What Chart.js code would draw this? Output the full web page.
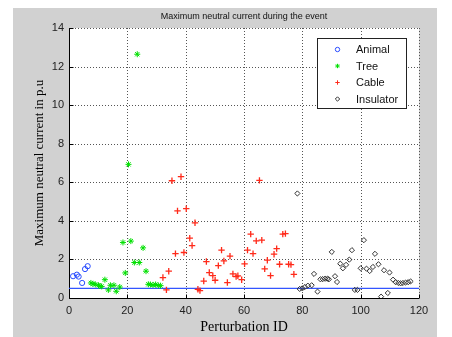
<!DOCTYPE html>
<html lang="en">
<head>
<meta charset="UTF-8">
<title>Maximum neutral current during the event</title>
<script src="https://cdn.jsdelivr.net/npm/chart.js"></script>
<style>
  html, body { margin: 0; padding: 0; background: #fff; }
  #wrap { width: 452px; height: 337px; }
</style>
</head>
<body>
<div id="wrap"><canvas id="chart" width="452" height="337"></canvas></div>
<script>
  // values
  const animalX = [1.4, 2.7, 3.3, 4.5, 5.5, 6.4];
  const animalY = [1.13, 1.21, 1.11, 0.78, 1.5, 1.65];

  const treeX = [7.5, 8.2, 9.0, 10.1, 10.6, 11.2, 12.3, 13.5, 14.2, 15.4, 16.2, 17.4, 18.5, 19.3,
    20.4, 21.2, 22.4, 23.4, 24.1, 25.4, 26.4, 27.2, 27.9, 28.8, 29.7, 30.6, 31.4];
  const treeY = [0.78, 0.73, 0.71, 0.66, 0.62, 0.6, 0.95, 0.42, 0.66, 0.66, 0.35, 0.57, 2.88, 1.3,
    6.93, 2.95, 1.84, 12.64, 1.84, 2.6, 1.39, 0.71, 0.7, 0.68, 0.7, 0.65, 0.64];

  const cableX = [32.2, 33.4, 34.2, 35.3, 36.5, 37.2, 38.4, 39.4, 40.2, 41.4, 42.2, 43.2, 44.2, 44.9,
    46.2, 47.1, 48.1, 49.3, 50.1, 51.2, 52.3, 53.1, 54.3, 55.2, 56.2, 57.3, 57.9, 59.2, 60.2, 61.2,
    62.3, 63.1, 64.2, 65.3, 66.1, 67.1, 68.0, 69.1, 70.3, 71.2, 72.2, 73.3, 74.2, 75.3, 76.1, 77.1];
  const cableY = [1.06, 0.42, 1.39, 6.08, 2.3, 4.52, 6.29, 2.36, 4.63, 3.1, 2.72, 3.9, 0.45, 0.38,
    0.88, 1.89, 1.32, 1.16, 0.92, 1.68, 2.48, 1.92, 0.8, 2.17, 1.25, 1.11, 1.15, 0.95, 1.77, 2.48,
    3.31, 2.3, 2.96, 6.1, 3.0, 1.51, 1.96, 1.16, 2.27, 2.56, 1.75, 3.31, 3.34, 1.75, 1.73, 1.23];

  const insulatorX = [78.3, 79.1, 80.0, 80.9, 81.9, 83.2, 84.0, 85.2, 86.2, 87.0, 87.8, 88.6, 89.1,
    90.1, 91.2, 91.9, 93.0, 93.9, 95.0, 96.1, 97.0, 98.0, 98.9, 100.0, 101.1, 102.0, 103.1, 104.2,
    104.9, 106.1, 107.0, 108.0, 109.3, 109.9, 111.1, 112.0, 112.9, 113.7, 114.5, 115.4, 116.3, 117.1];
  const insulatorY = [5.42, 0.47, 0.5, 0.57, 0.64, 0.66, 1.25, 0.33, 0.97, 0.98, 1.0, 1.0, 0.97,
    2.39, 1.13, 0.83, 1.78, 1.54, 1.72, 1.99, 2.48, 0.42, 0.42, 1.54, 3.0, 1.52, 1.4, 1.61,
    2.29, 1.75, 0.07, 1.44, 0.26, 1.32, 0.95, 0.82, 0.78, 0.76, 0.78, 0.8, 0.82, 0.86];

  const thresholdX = [0, 120];
  const thresholdY = [0.5, 0.5];

  const xTicks = [0, 20, 40, 60, 80, 100, 120];
  const yTicks = [0, 2, 4, 6, 8, 10, 12, 14];

  const legendItems = [
    { label: "Animal", style: "circle", color: "#2a4dff" },
    { label: "Tree", style: "star", color: "#00e000" },
    { label: "Cable", style: "cross", color: "#ff2a1a" },
    { label: "Insulator", style: "rectRot", color: "#333333" }
  ];

  function pts(xs, ys) {
    return xs.map((x, i) => ({ x, y: ys[i] }));
  }

  // gray figure, white axes, dotted grid, inward ticks
  const matlabFrame = {
    id: "matlabFrame",
    beforeDraw(chart) {
      const ctx = chart.ctx;
      const a = chart.chartArea;
      ctx.save();
      ctx.fillStyle = "#ffffff";
      ctx.fillRect(0, 0, chart.width, chart.height);
      ctx.fillStyle = "#d1d1d1";
      ctx.fillRect(13, 8, 424, 329);
      ctx.fillStyle = "#ffffff";
      ctx.fillRect(a.left, a.top, a.right - a.left, a.bottom - a.top);
      ctx.restore();
    },
    beforeDatasetsDraw(chart) {
      const ctx = chart.ctx;
      const a = chart.chartArea;
      const xs = chart.scales.x, ys = chart.scales.y;
      ctx.save();
      ctx.strokeStyle = "#555";
      ctx.lineWidth = 1;
      ctx.setLineDash([1, 2]);
      xTicks.slice(1).forEach(v => {
        const px = Math.round(xs.getPixelForValue(v)) + 0.5;
        ctx.beginPath(); ctx.moveTo(px, a.top); ctx.lineTo(px, a.bottom); ctx.stroke();
      });
      yTicks.slice(1).forEach(v => {
        const py = Math.round(ys.getPixelForValue(v)) + 0.5;
        ctx.beginPath(); ctx.moveTo(a.left, py); ctx.lineTo(a.right, py); ctx.stroke();
      });
      ctx.setLineDash([]);
      ctx.strokeStyle = "#000";
      const left = Math.round(a.left) + 0.5, bottom = Math.round(a.bottom) + 0.5;
      ctx.beginPath();
      ctx.moveTo(left, a.top); ctx.lineTo(left, bottom); ctx.lineTo(a.right, bottom);
      ctx.stroke();
      xTicks.forEach(v => {
        const px = Math.round(xs.getPixelForValue(v)) + 0.5;
        ctx.beginPath(); ctx.moveTo(px, bottom); ctx.lineTo(px, bottom - 4); ctx.stroke();
      });
      yTicks.forEach(v => {
        const py = Math.round(ys.getPixelForValue(v)) + 0.5;
        ctx.beginPath(); ctx.moveTo(left, py); ctx.lineTo(left + 4, py); ctx.stroke();
      });
      ctx.restore();
    },
    afterDraw(chart) {
      const ctx = chart.ctx;
      const a = chart.chartArea;
      ctx.save();
      // title
      ctx.fillStyle = "#111";
      ctx.font = "9px 'Liberation Sans', Arial, sans-serif";
      ctx.textAlign = "center";
      ctx.textBaseline = "middle";
      ctx.fillText("Maximum neutral current during the event", (a.left + a.right) / 2, 17);
      // legend box inside the axes
      const bx = 317.5, by = 38.5, bw = 89, bh = 70;
      ctx.fillStyle = "#fff";
      ctx.fillRect(bx, by, bw, bh);
      ctx.strokeStyle = "#222";
      ctx.lineWidth = 1;
      ctx.strokeRect(bx, by, bw, bh);
      legendItems.forEach((it, i) => {
        const cy = 49.5 + i * 16.5;
        ctx.save();
        ctx.strokeStyle = it.color;
        ctx.fillStyle = "rgba(0,0,0,0)";
        ctx.lineWidth = 1;
        Chart.helpers.drawPoint(ctx, {
          pointStyle: it.style, radius: 2.2, rotation: 0, borderWidth: 1
        }, 337.5, cy);
        ctx.restore();
        ctx.fillStyle = "#111";
        ctx.font = "11px 'Liberation Sans', Arial, sans-serif";
        ctx.textAlign = "left";
        ctx.textBaseline = "middle";
        ctx.fillText(it.label, 356, cy + 0.5);
      });
      ctx.restore();
    }
  };

  new Chart(document.getElementById("chart"), {
    type: "scatter",
    data: {
      datasets: [
        {
          label: "Animal", data: pts(animalX, animalY),
          pointStyle: "circle", pointRadius: 2.6, borderColor: "#2a4dff",
          backgroundColor: "rgba(0,0,0,0)", borderWidth: 1
        },
        {
          label: "Tree", data: pts(treeX, treeY),
          pointStyle: "star", pointRadius: 3, borderColor: "#00e000",
          backgroundColor: "#00e000", borderWidth: 1
        },
        {
          label: "Cable", data: pts(cableX, cableY),
          pointStyle: "cross", pointRadius: 3.2, borderColor: "#ff2a1a",
          backgroundColor: "#ff2a1a", borderWidth: 1.3
        },
        {
          label: "Insulator", data: pts(insulatorX, insulatorY),
          pointStyle: "rectRot", pointRadius: 2.6, borderColor: "#333333",
          backgroundColor: "rgba(0,0,0,0)", borderWidth: 1
        },
        {
          type: "line", label: "threshold", data: pts(thresholdX, thresholdY),
          borderColor: "#3355ff", borderWidth: 1.2, pointRadius: 0, fill: false
        }
      ]
    },
    options: {
      responsive: false,
      animation: false,
      layout: { padding: { top: 28, right: 33, bottom: 0, left: 28 } },
      plugins: {
        legend: { display: false },
        tooltip: { enabled: false }
      },
      scales: {
        x: {
          type: "linear", min: 0, max: 120,
          afterFit(s) { s.height = 39; },
          afterBuildTicks(s) { s.ticks = xTicks.map(v => ({ value: v })); },
          grid: { display: false, drawTicks: false },
          border: { display: false },
          ticks: {
            padding: 6, color: "#222",
            font: { family: "'Liberation Sans', Arial, sans-serif", size: 11 }
          },
          title: {
            display: true, text: "Perturbation ID", color: "#000",
            font: { family: "'Liberation Serif', 'Times New Roman', serif", size: 14 },
            padding: { top: 0, bottom: 1 }
          }
        },
        y: {
          type: "linear", min: 0, max: 14,
          afterFit(s) { s.width = 41; },
          afterBuildTicks(s) { s.ticks = yTicks.map(v => ({ value: v })); },
          grid: { display: false, drawTicks: false },
          border: { display: false },
          ticks: {
            padding: 5, color: "#222",
            font: { family: "'Liberation Sans', Arial, sans-serif", size: 11 }
          },
          title: {
            display: true, text: "Maximum neutral current in p.u", color: "#000",
            font: { family: "'Liberation Serif', 'Times New Roman', serif", size: 13 },
            padding: { top: 4, bottom: 0 }
          }
        }
      }
    },
    plugins: [matlabFrame]
  });
</script>
</body>
</html>
